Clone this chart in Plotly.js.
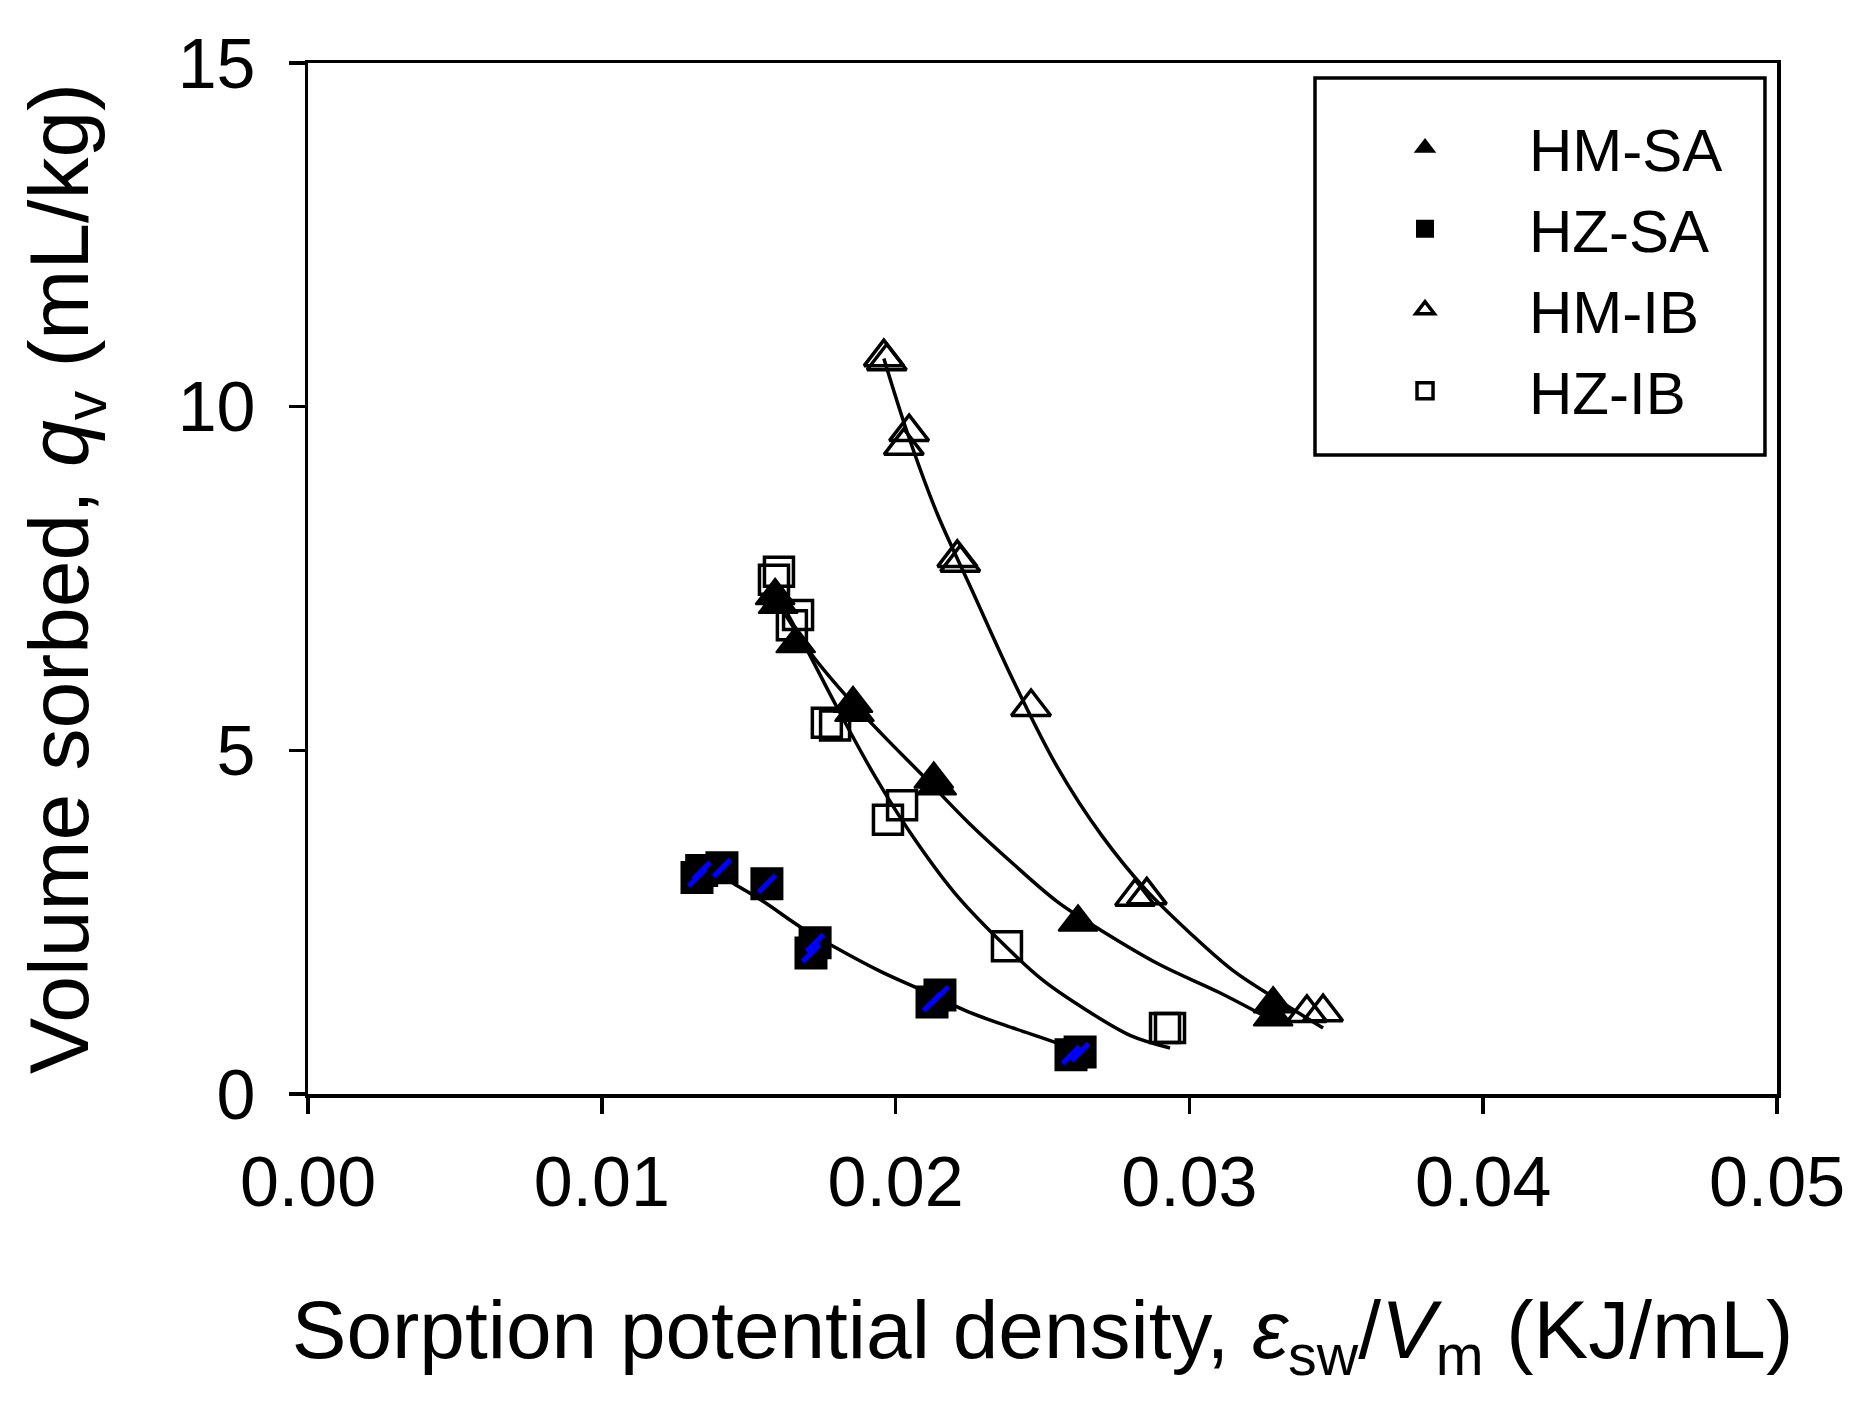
<!DOCTYPE html>
<html>
<head>
<meta charset="utf-8">
<script src="https://cdn.plot.ly/plotly-3.0.1.min.js"></script>
<style>
  body { margin: 0; background: #fff; }
  #sorption_plot { width: 1869px; height: 1408px; }
</style>
</head>
<body>
<div id="sorption_plot"></div>
<script>
var hmSaX = [0.0159, 0.0160, 0.0166, 0.01855, 0.01860, 0.02130, 0.02140, 0.02621, 0.03285, 0.03285];
var hmSaY = [7.25, 7.12, 6.55, 5.68, 5.55, 4.58, 4.48, 2.50, 1.31, 1.12];

var hzSaX = [0.01324, 0.01340, 0.01409, 0.01562, 0.01712, 0.01726, 0.02124, 0.02151, 0.02597, 0.02628];
var hzSaY = [3.15, 3.25, 3.29, 3.06, 2.05, 2.20, 1.34, 1.44, 0.57, 0.61];

var hmIbX = [0.0196, 0.0197, 0.02046, 0.02028, 0.0221, 0.0222, 0.02461, 0.02815, 0.02855, 0.03400, 0.03455];
var hmIbY = [10.72, 10.66, 9.63, 9.43, 7.80, 7.73, 5.63, 2.87, 2.89, 1.18, 1.19];

var hzIbX = [0.01586, 0.01603, 0.01647, 0.01668, 0.01766, 0.01794, 0.01974, 0.02022, 0.02379, 0.02917, 0.02934];
var hzIbY = [7.48, 7.60, 6.82, 6.97, 5.40, 5.36, 3.99, 4.20, 2.15, 0.96, 0.96];

// fitted curves
var fitHmSaX = [0.0160, 0.0171, 0.0183, 0.0195, 0.0210, 0.0225, 0.0240, 0.0255, 0.0270, 0.0290, 0.0310, 0.0327];
var fitHmSaY = [7.15, 6.42, 5.80, 5.25, 4.60, 3.94, 3.35, 2.80, 2.38, 1.88, 1.48, 1.10];

var fitHzSaX = [0.0137, 0.0145, 0.0155, 0.0168, 0.0180, 0.0195, 0.0210, 0.0225, 0.0240, 0.0255, 0.0262];
var fitHzSaY = [3.28, 3.06, 2.80, 2.42, 2.12, 1.78, 1.49, 1.19, 0.96, 0.74, 0.62];

var fitHmIbX = [0.0196, 0.0204, 0.0214, 0.0226, 0.0240, 0.0255, 0.0270, 0.0285, 0.0300, 0.0315, 0.0330, 0.03455];
var fitHmIbY = [10.70, 9.62, 8.46, 7.33, 6.02, 4.76, 3.77, 2.98, 2.35, 1.79, 1.37, 0.96];

var fitHzIbX = [0.0158, 0.0170, 0.0180, 0.0193, 0.0205, 0.0220, 0.0235, 0.0250, 0.0265, 0.0280, 0.02934];
var fitHzIbY = [7.40, 6.45, 5.63, 4.62, 3.80, 2.93, 2.25, 1.66, 1.22, 0.85, 0.67];

var FONT = '"Liberation Sans", Arial, sans-serif';
var LW = 3.5;

function fitLine(x, y){
    return { x: x, y: y, mode: 'lines', type: 'scatter', showlegend: false, hoverinfo: 'skip',
             line: { color: 'black', width: LW, shape: 'spline', smoothing: 1 } };
}

var data = [
    fitLine(fitHmSaX, fitHmSaY),
    fitLine(fitHzSaX, fitHzSaY),
    fitLine(fitHmIbX, fitHmIbY),
    fitLine(fitHzIbX, fitHzIbY),
    { x: hmSaX, y: hmSaY, name: 'HM-SA', mode: 'markers', type: 'scatter',
      marker: { symbol: 'triangle-up', size: 34, color: 'black', line: { color: 'black', width: 2 } } },
    { x: hzSaX, y: hzSaY, name: 'HZ-SA', mode: 'markers', type: 'scatter', legendgroup: 'hzsa',
      marker: { symbol: 'square', size: 31, color: 'black', line: { color: 'black', width: 2 } } },
    { x: hmIbX, y: hmIbY, name: 'HM-IB', mode: 'markers', type: 'scatter',
      marker: { symbol: 'triangle-up-open', size: 34, color: 'black', line: { color: 'black', width: LW } } },
    { x: hzIbX, y: hzIbY, name: 'HZ-IB', mode: 'markers', type: 'scatter',
      marker: { symbol: 'square-open', size: 29, color: 'black', line: { color: 'black', width: LW } } },
    // blue dither of the HZ-SA squares
    { x: hzSaX, y: hzSaY, mode: 'markers', type: 'scatter', showlegend: false, legendgroup: 'hzsa', hoverinfo: 'skip',
      marker: { symbol: 'line-ne', size: 17, color: '#0000ff', line: { color: '#0000ff', width: 5 } } }
];

var axisCommon = {
    showgrid: false, zeroline: false,
    showline: true, linecolor: 'black', linewidth: LW, mirror: true,
    ticks: 'outside', ticklen: 16, tickwidth: LW, tickcolor: 'black',
    tickfont: { family: FONT, size: 70, color: 'black' },
    automargin: false
};

var layout = {
    width: 1869, height: 1408,
    paper_bgcolor: 'white', plot_bgcolor: 'white',
    margin: { l: 308, r: 92, t: 63, b: 314 },
    font: { family: FONT, color: 'black' },
    showlegend: true,
    legend: {
        x: 0.6896, y: 0.962, xanchor: 'left', yanchor: 'top',
        bgcolor: 'rgba(0,0,0,0)', borderwidth: 0,
        font: { family: FONT, size: 60, color: 'black' },
        itemsizing: 'trace', itemwidth: 198, traceorder: 'normal'
    },
    xaxis: Object.assign({}, axisCommon, {
        range: [0, 0.05], tick0: 0, dtick: 0.01, tickformat: '.2f',
        ticklabelstandoff: 8,
        title: { text: 'Sorption potential density, <i>ε</i><sub>sw</sub>/<i>V</i><sub>m</sub> (KJ/mL)',
                 font: { family: FONT, size: 82, color: 'black' }, standoff: 82 }
    }),
    yaxis: Object.assign({}, axisCommon, {
        range: [0, 15], tick0: 0, dtick: 5,
        ticklabelstandoff: 19,
        title: { text: 'Volume sorbed, <i>q</i><sub>v</sub> (mL/kg)',
                 font: { family: FONT, size: 84, color: 'black' }, standoff: 62 }
    }),
    shapes: [
        { type: 'rect', xref: 'paper', yref: 'paper', x0: 0.6855, x1: 0.9918, y0: 0.6198, y1: 0.9855,
          line: { color: 'black', width: LW }, fillcolor: 'rgba(0,0,0,0)' }
    ]
};

Plotly.newPlot('sorption_plot', data, layout, { staticPlot: true });
</script>
</body>
</html>
